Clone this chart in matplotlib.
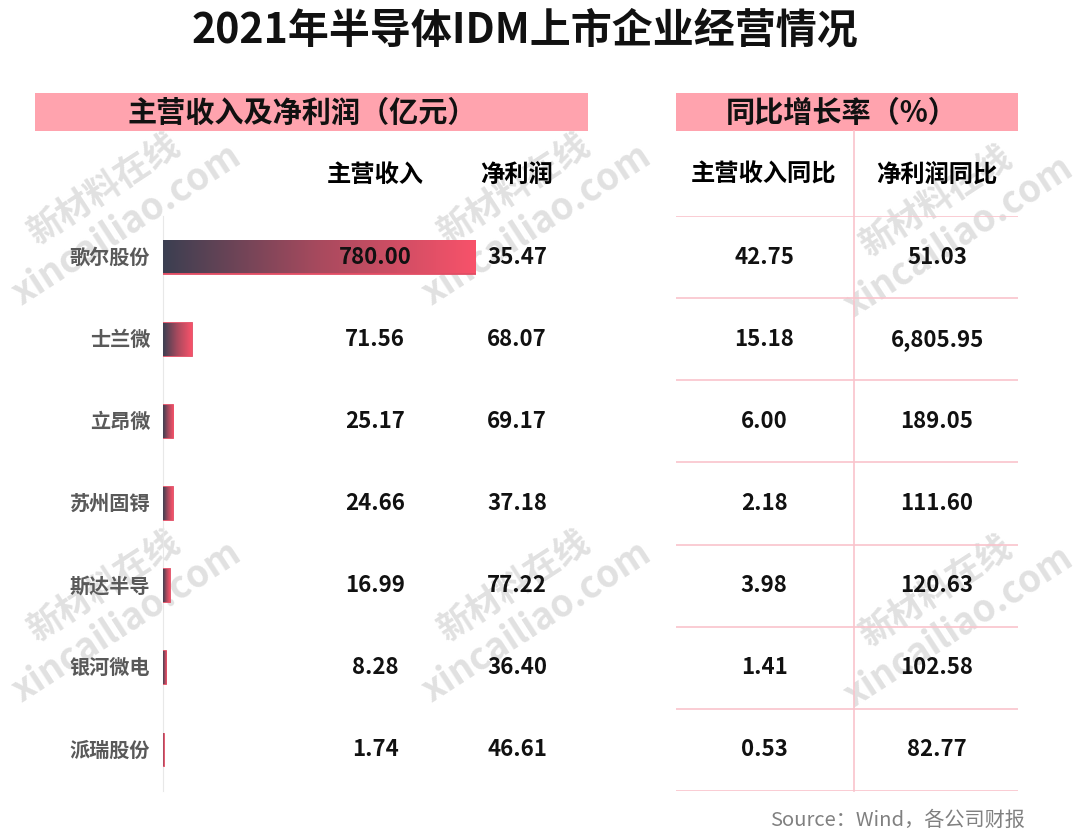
import numpy as np
import matplotlib
matplotlib.use('Agg')
import matplotlib.pyplot as plt
from matplotlib.colors import LinearSegmentedColormap
from matplotlib.transforms import blended_transform_factory

plt.rcParams['font.family'] = ['Noto Sans CJK SC', 'DejaVu Sans']

# данные
companies = ['歌尔股份', '士兰微', '立昂微', '苏州固锝', '斯达半导', '银河微电', '派瑞股份']
revenue = [780.00, 71.56, 25.17, 24.66, 16.99, 8.28, 1.74]
net_profit = [35.47, 68.07, 69.17, 37.18, 77.22, 36.40, 46.61]
revenue_yoy = [42.75, 15.18, 6.00, 2.18, 3.98, 1.41, 0.53]
profit_yoy = [51.03, 6805.95, 189.05, 111.60, 120.63, 102.58, 82.77]

W, H = 1080, 838
fig = plt.figure(figsize=(W / 100, H / 100), dpi=100)
fig.patch.set_facecolor('white')

# оверлей в пикселях
bg = fig.add_axes([0, 0, 1, 1])
bg.set_xlim(0, W)
bg.set_ylim(H, 0)
bg.axis('off')

pink = '#FFA3AE'
line_pink = '#F9C4CC'

bg.text(525, 30, '2021年半导体IDM上市企业经营情况', fontsize=29.5, fontweight='heavy',
        ha='center', va='center', color='#111111')

# заголовки
bg.add_patch(plt.Rectangle((35, 93), 553, 38, color=pink, lw=0))
bg.add_patch(plt.Rectangle((676, 93), 342, 38, color=pink, lw=0))
bg.text(302, 113, '主营收入及净利润（亿元）', fontsize=21, fontweight='bold',
        ha='center', va='center', color='#111111')
bg.text(842, 113, '同比增长率（%）', fontsize=21, fontweight='bold',
        ha='center', va='center', color='#111111')

bg.text(375, 175, '主营收入', fontsize=17.5, fontweight='bold', ha='center', va='center')
bg.text(517, 175, '净利润', fontsize=17.5, fontweight='bold', ha='center', va='center')
bg.text(764, 175, '主营收入同比', fontsize=17.5, fontweight='bold', ha='center', va='center')
bg.text(937, 175, '净利润同比', fontsize=17.5, fontweight='bold', ha='center', va='center')

# водяные знаки
for cx, cy in [(118, 213), (528, 213), (950, 225), (118, 610), (528, 610), (950, 615)]:
    bg.text(cx - 14, cy - 24, '新材料在线', fontsize=25, fontweight='bold', rotation=33,
            ha='center', va='center', color='#c8c8c8', alpha=0.55, zorder=0)
    bg.text(cx + 8, cy + 12, 'xincailiao.com', fontsize=26.5, fontweight='bold', rotation=33,
            ha='center', va='center', color='#c8c8c8', alpha=0.55, zorder=0)

bg.text(1025, 820, 'Source：Wind，各公司财报', fontsize=14.5, color='#808080',
        ha='right', va='center')

# бары
x0, x1, y0, y1 = 163, 476, 216, 791
ax = fig.add_axes([x0 / W, 1 - y1 / H, (x1 - x0) / W, (y1 - y0) / H])
ax.patch.set_alpha(0)
n = len(companies)
ypos = np.arange(n)
bh = 0.40
cmap = LinearSegmentedColormap.from_list('g', ['#3b3f51', '#a84a5e', '#f8526a'])
grad = np.linspace(0, 1, 256).reshape(1, -1)
bars = ax.barh(ypos, revenue, height=bh, color='#e24d64', edgecolor='#e24d64',
               lw=1.3, zorder=1)
for i, v in enumerate(revenue):
    ax.imshow(grad, cmap=cmap, aspect='auto', extent=[0, v, i + bh / 2, i - bh / 2],
              interpolation='bicubic', zorder=2)
ax.set_xlim(0, 780)
ax.set_ylim(n - 0.5, -0.5)
for s in ['top', 'right', 'bottom']:
    ax.spines[s].set_visible(False)
ax.spines['left'].set_color('#e8e8e8')
ax.spines['left'].set_zorder(0)
ax.set_xticks([])
ax.set_yticks([])

tr = blended_transform_factory(fig.transFigure, ax.transData)
for i in range(n):
    ax.text(150 / W, i, companies[i], transform=tr, ha='right', va='center',
            fontsize=14.5, fontweight='bold', color='#595959')
    ax.text(375 / W, i, f'{revenue[i]:,.2f}', transform=tr, ha='center', va='center',
            fontsize=16, fontweight='bold', color='#111111', zorder=5)
    ax.text(517 / W, i, f'{net_profit[i]:,.2f}', transform=tr, ha='center', va='center',
            fontsize=16, fontweight='bold', color='#111111')

# таблица справа
tx0, tx1 = 676, 1018
tab = fig.add_axes([tx0 / W, 1 - y1 / H, (tx1 - tx0) / W, (y1 - y0) / H])
tab.set_xlim(tx0, tx1)
tab.set_ylim(n - 0.5, -0.5)
tab.axis('off')
tab.patch.set_alpha(0)
for k in range(n + 1):
    tab.axhline(k - 0.5, color=line_pink, lw=1.2)
for i in range(n):
    tab.text(764, i, f'{revenue_yoy[i]:,.2f}', ha='center', va='center',
             fontsize=16, fontweight='bold', color='#111111')
    tab.text(937, i, f'{profit_yoy[i]:,.2f}', ha='center', va='center',
             fontsize=16, fontweight='bold', color='#111111')
bg.plot([854, 854], [131, 791], color=line_pink, lw=1.2)

fig.savefig('out.png', dpi=100, facecolor='white')
